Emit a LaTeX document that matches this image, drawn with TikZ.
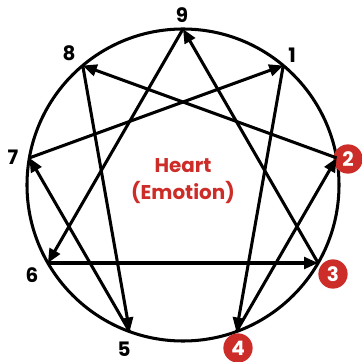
\documentclass[tikz,border=0pt]{standalone}
\usepackage{fontspec}
\setsansfont{Poppins}
\usepackage{xcolor}
\usetikzlibrary{positioning, arrows.meta, calc}

\definecolor{heartred}{RGB}{205,45,40}

\begin{document}
\begin{tikzpicture}[
    x=0.03cm, y=0.03cm,
    font=\sffamily\bfseries,
    line width=2.6pt,
    arrow/.style={-{Triangle[length=12pt, width=10pt]}, line width=2.6pt},
    num/.style={font=\sffamily\bfseries\fontsize{17}{17}\selectfont, inner sep=0pt},
    heartnum/.style={
        circle, fill=heartred, text=white,
        minimum size=25pt, inner sep=0pt,
        font=\sffamily\bfseries\fontsize{17}{17}\selectfont
    },
    title/.style={text=heartred, align=center,
        font=\sffamily\bfseries\fontsize{17}{23}\selectfont},
]

% ---------- Frame ----------
\useasboundingbox (0,0) rectangle (362,362);

% ---------- Circle ----------
\coordinate (c) at (183,177);
\draw (c) circle (156);

% ---------- Points on the circle ----------
\foreach \n/\a in {9/90, 1/50, 2/10, 3/-30, 4/-70, 5/-110, 6/-150, 7/170, 8/130}
    \coordinate (p\n) at ($(c)+(\a:156)$);

% ---------- Labels ----------
\node[num] (n9) at (182,347) {9};
\node[num] (n8) at (69,309) {8};
\node[num] (n1) at (292,307) {1};
\node[num] (n7) at (13,205) {7};
\node[num] (n6) at (32,87) {6};
\node[num] (n5) at (124,13) {5};

\node[heartnum] (n2) at (348,203) {2};
\node[heartnum] (n3) at (333,88) {3};
\node[heartnum] (n4) at (238,14) {4};

% ---------- Centre text ----------
\node[title] (heart) at (183,181) {Heart\\(Emotion)};

% ---------- Arrows ----------
\draw[arrow] (p9) -- (p6);
\draw[arrow] (p6) -- (p3);
\draw[arrow] (p3) -- (p9);

\draw[arrow] (p1) -- (p4);
\draw[arrow] (p4) -- (p2);
\draw[arrow] (p2) -- (p8);
\draw[arrow] (p8) -- (p5);
\draw[arrow] (p5) -- (p7);
\draw[arrow] (p7) -- (p1);

\end{tikzpicture}
\end{document}
